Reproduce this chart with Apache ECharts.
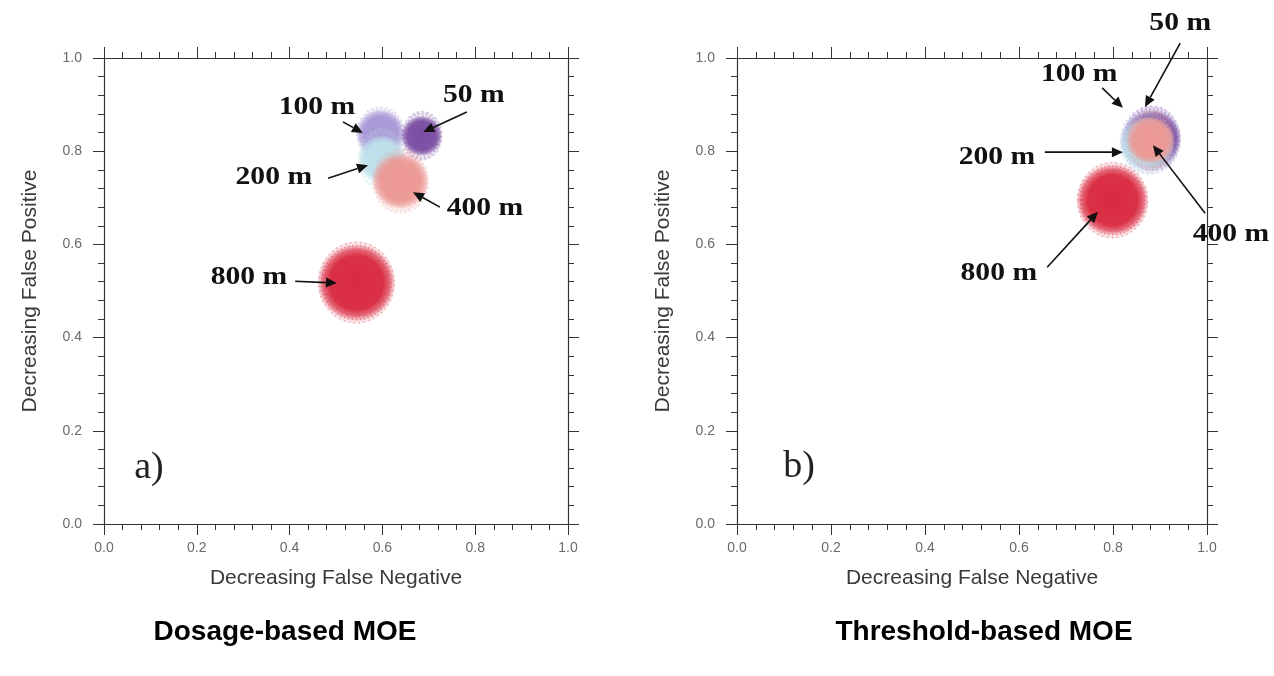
<!DOCTYPE html>
<html>
<head>
<meta charset="utf-8">
<script src="https://cdn.jsdelivr.net/npm/echarts@6/dist/echarts.min.js"></script>
<style>
  html, body { margin: 0; padding: 0; background: #ffffff; }
  #chart { width: 1274px; height: 676px; }
</style>
</head>
<body>
<div id="chart"></div>
<script>
// ---------- DATA ----------
const rangeLabels = ['50 m', '100 m', '200 m', '400 m', '800 m'];
const axisTicks = [0.0, 0.2, 0.4, 0.6, 0.8, 1.0];

// Dosage-based MOE (panel a): cluster centres and spreads (data units)
const dosageCenterX = [0.685, 0.596, 0.599, 0.639, 0.544];
const dosageCenterY = [0.833, 0.838, 0.783, 0.736, 0.518];
const dosageSpreadX = [0.044, 0.052, 0.052, 0.061, 0.083];
const dosageSpreadY = [0.053, 0.058, 0.066, 0.070, 0.088];

// Threshold-based MOE (panel b)
const thresholdCenterX = [0.884, 0.880, 0.872, 0.880, 0.799];
const thresholdCenterY = [0.828, 0.824, 0.816, 0.824, 0.695];
const thresholdSpreadX = [0.060, 0.064, 0.058, 0.051, 0.076];
const thresholdSpreadY = [0.070, 0.073, 0.068, 0.065, 0.082];

// Annotation label positions and arrows (data units), same order as rangeLabels
const dosageLabelX = [0.797, 0.459, 0.366, 0.821, 0.3125];
const dosageLabelY = [0.921, 0.895, 0.745, 0.678, 0.530];
const dosageArrowFrom = [[0.782, 0.884], [0.515, 0.863], [0.483, 0.742], [0.724, 0.680], [0.412, 0.521]];
const dosageArrowTo   = [[0.688, 0.841], [0.558, 0.839], [0.569, 0.770], [0.666, 0.712], [0.502, 0.517]];

const thresholdLabelX = [0.943, 0.728, 0.553, 1.051, 0.557];
const thresholdLabelY = [1.075, 0.964, 0.788, 0.622, 0.539];
const thresholdArrowFrom = [[0.943, 1.032], [0.777, 0.936], [0.655, 0.798], [0.996, 0.667], [0.660, 0.551]];
const thresholdArrowTo   = [[0.868, 0.895], [0.821, 0.893], [0.821, 0.798], [0.885, 0.813], [0.768, 0.670]];

const panelTags = ['a)', 'b)'];
const panelTagPos = [[0.097, 0.120], [0.132, 0.122]];
const panelTitles = ['Dosage-based MOE', 'Threshold-based MOE'];
const axisNameX = 'Decreasing False Negative';
const axisNameY = 'Decreasing False Positive';

// ---------- STYLE ----------
const clusterColors = ['#7b4ea2', '#a897d6', '#bde0ea', '#ec9894', '#d92a40'];
const drawOrder = [1, 0, 2, 3, 4];
const SANS = '"Liberation Sans", Arial, Helvetica, sans-serif';
const SERIF = '"Liberation Serif", "DejaVu Serif", "Times New Roman", serif';

function hexToRgba(hex, a) {
  const n = parseInt(hex.slice(1), 16);
  return 'rgba(' + ((n >> 16) & 255) + ',' + ((n >> 8) & 255) + ',' + (n & 255) + ',' + a + ')';
}

function clusterData(cx, cy, sx, sy) {
  return drawOrder.map(i => [cx[i], cy[i], sx[i], sy[i], i]);
}
function arrowData(from, to) {
  return from.map((f, i) => [f[0], f[1], to[i][0], to[i][1]]);
}
function labelData(lx, ly) {
  return lx.map((x, i) => ({ value: [x, ly[i]], name: rangeLabels[i] }));
}

// speckle rings: [radius factor, dash, alpha, lineWidth]
const speckleRings = [
  [0.98, [1, 4], 0.45, 1.6],
  [0.90, [1, 3], 0.55, 1.6],
  [0.82, [1, 5], 0.35, 1.4]
];

function renderCluster(params, api) {
  const c = api.coord([api.value(0), api.value(1)]);
  const s = api.size([api.value(2), api.value(3)]);
  const col = clusterColors[api.value(4)];
  const children = [
    {
      type: 'ellipse',
      shape: { cx: c[0], cy: c[1], rx: s[0], ry: s[1] },
      style: {
        fill: new echarts.graphic.RadialGradient(0.5, 0.5, 0.5, [
          { offset: 0, color: hexToRgba(col, 1) },
          { offset: 0.7, color: hexToRgba(col, 0.97) },
          { offset: 0.86, color: hexToRgba(col, 0.7) },
          { offset: 1, color: hexToRgba(col, 0.12) }
        ])
      }
    }
  ];
  speckleRings.forEach(r => {
    children.push({
      type: 'ellipse',
      shape: { cx: c[0], cy: c[1], rx: s[0] * r[0], ry: s[1] * r[0] },
      style: { fill: 'none', stroke: hexToRgba(col, r[2]), lineWidth: r[3], lineDash: r[1] }
    });
  });
  return { type: 'group', children: children };
}

function renderArrow(params, api) {
  const p1 = api.coord([api.value(0), api.value(1)]);
  const p2 = api.coord([api.value(2), api.value(3)]);
  const dx = p2[0] - p1[0], dy = p2[1] - p1[1];
  const len = Math.sqrt(dx * dx + dy * dy);
  const ux = dx / len, uy = dy / len;
  const head = 11, half = 5;
  const bx = p2[0] - ux * head, by = p2[1] - uy * head;
  return {
    type: 'group',
    children: [
      { type: 'line', shape: { x1: p1[0], y1: p1[1], x2: bx, y2: by },
        style: { stroke: '#111', lineWidth: 1.6 } },
      { type: 'polygon', shape: { points: [
          [p2[0], p2[1]], [bx - uy * half, by + ux * half], [bx + uy * half, by - ux * half]
        ] }, style: { fill: '#111' } }
    ]
  };
}

function renderLabel(params, api) {
  const p = api.coord([api.value(0), api.value(1)]);
  return {
    type: 'text', x: p[0], y: p[1], scaleX: 1.14,
    style: {
      text: rangeLabels[params.dataIndex], fill: '#111',
      font: 'bold 26px ' + SERIF, textAlign: 'center', textVerticalAlign: 'middle'
    }
  };
}

function renderTag(params, api) {
  const p = api.coord([api.value(0), api.value(1)]);
  return {
    type: 'text', x: p[0], y: p[1],
    style: {
      text: panelTags[params.seriesIndex === 3 ? 0 : 1], fill: '#222',
      font: '38px ' + SERIF, textAlign: 'center', textVerticalAlign: 'middle'
    }
  };
}

function axisBase(extra) {
  return Object.assign({
    type: 'value', min: 0, max: 1, interval: 0.2,
    axisLine: { show: true, onZero: false, lineStyle: { color: '#333', width: 1.2 } },
    axisTick: { show: true, inside: false, length: 11, lineStyle: { color: '#333', width: 1 } },
    minorTick: { show: true, splitNumber: 5, length: 6, lineStyle: { color: '#333', width: 1 } },
    splitLine: { show: false },
    minorSplitLine: { show: false }
  }, extra);
}
const tickLabel = {
  show: true, color: '#6a6a6a', fontSize: 14, fontFamily: SANS,
  formatter: v => Number(v).toFixed(1)
};
const nameStyle = { color: '#3a3a3a', fontSize: 21, fontFamily: SANS };

const option = {
  backgroundColor: '#ffffff',
  animation: false,
  grid: [
    { left: 104, top: 58, width: 464, height: 466 },
    { left: 737, top: 58, width: 470, height: 466 }
  ],
  xAxis: [
    axisBase({ gridIndex: 0, position: 'bottom', axisLabel: Object.assign({ margin: 17 }, tickLabel),
      name: axisNameX, nameLocation: 'middle', nameGap: 44, nameTextStyle: nameStyle }),
    axisBase({ gridIndex: 0, position: 'top', axisLabel: { show: false } }),
    axisBase({ gridIndex: 1, position: 'bottom', axisLabel: Object.assign({ margin: 17 }, tickLabel),
      name: axisNameX, nameLocation: 'middle', nameGap: 44, nameTextStyle: nameStyle }),
    axisBase({ gridIndex: 1, position: 'top', axisLabel: { show: false } })
  ],
  yAxis: [
    axisBase({ gridIndex: 0, position: 'left', axisLabel: Object.assign({ margin: 22 }, tickLabel),
      name: axisNameY, nameLocation: 'middle', nameGap: 63, nameTextStyle: nameStyle }),
    axisBase({ gridIndex: 0, position: 'right', axisLabel: { show: false } }),
    axisBase({ gridIndex: 1, position: 'left', axisLabel: Object.assign({ margin: 22 }, tickLabel),
      name: axisNameY, nameLocation: 'middle', nameGap: 63, nameTextStyle: nameStyle }),
    axisBase({ gridIndex: 1, position: 'right', axisLabel: { show: false } })
  ],
  graphic: [
    { type: 'text', x: 285, y: 632, style: { text: panelTitles[0], font: 'bold 28px ' + SANS,
      fill: '#000', textAlign: 'center', textVerticalAlign: 'middle' } },
    { type: 'text', x: 984, y: 632, style: { text: panelTitles[1], font: 'bold 28px ' + SANS,
      fill: '#000', textAlign: 'center', textVerticalAlign: 'middle' } }
  ],
  series: [
    { type: 'custom', name: 'dosage clusters', xAxisIndex: 0, yAxisIndex: 0, clip: false,
      renderItem: renderCluster, data: clusterData(dosageCenterX, dosageCenterY, dosageSpreadX, dosageSpreadY) },
    { type: 'custom', name: 'dosage arrows', xAxisIndex: 0, yAxisIndex: 0, clip: false,
      renderItem: renderArrow, data: arrowData(dosageArrowFrom, dosageArrowTo) },
    { type: 'custom', name: 'dosage labels', xAxisIndex: 0, yAxisIndex: 0, clip: false,
      renderItem: renderLabel, data: labelData(dosageLabelX, dosageLabelY) },
    { type: 'custom', name: 'tag a', xAxisIndex: 0, yAxisIndex: 0, clip: false,
      renderItem: renderTag, data: [panelTagPos[0]] },
    { type: 'custom', name: 'threshold clusters', xAxisIndex: 2, yAxisIndex: 2, clip: false,
      renderItem: renderCluster, data: clusterData(thresholdCenterX, thresholdCenterY, thresholdSpreadX, thresholdSpreadY) },
    { type: 'custom', name: 'threshold arrows', xAxisIndex: 2, yAxisIndex: 2, clip: false,
      renderItem: renderArrow, data: arrowData(thresholdArrowFrom, thresholdArrowTo) },
    { type: 'custom', name: 'threshold labels', xAxisIndex: 2, yAxisIndex: 2, clip: false,
      renderItem: renderLabel, data: labelData(thresholdLabelX, thresholdLabelY) },
    { type: 'custom', name: 'tag b', xAxisIndex: 2, yAxisIndex: 2, clip: false,
      renderItem: renderTag, data: [panelTagPos[1]] }
  ]
};

const chart = echarts.init(document.getElementById('chart'), null, { renderer: 'canvas' });
chart.setOption(option);
</script>
</body>
</html>
